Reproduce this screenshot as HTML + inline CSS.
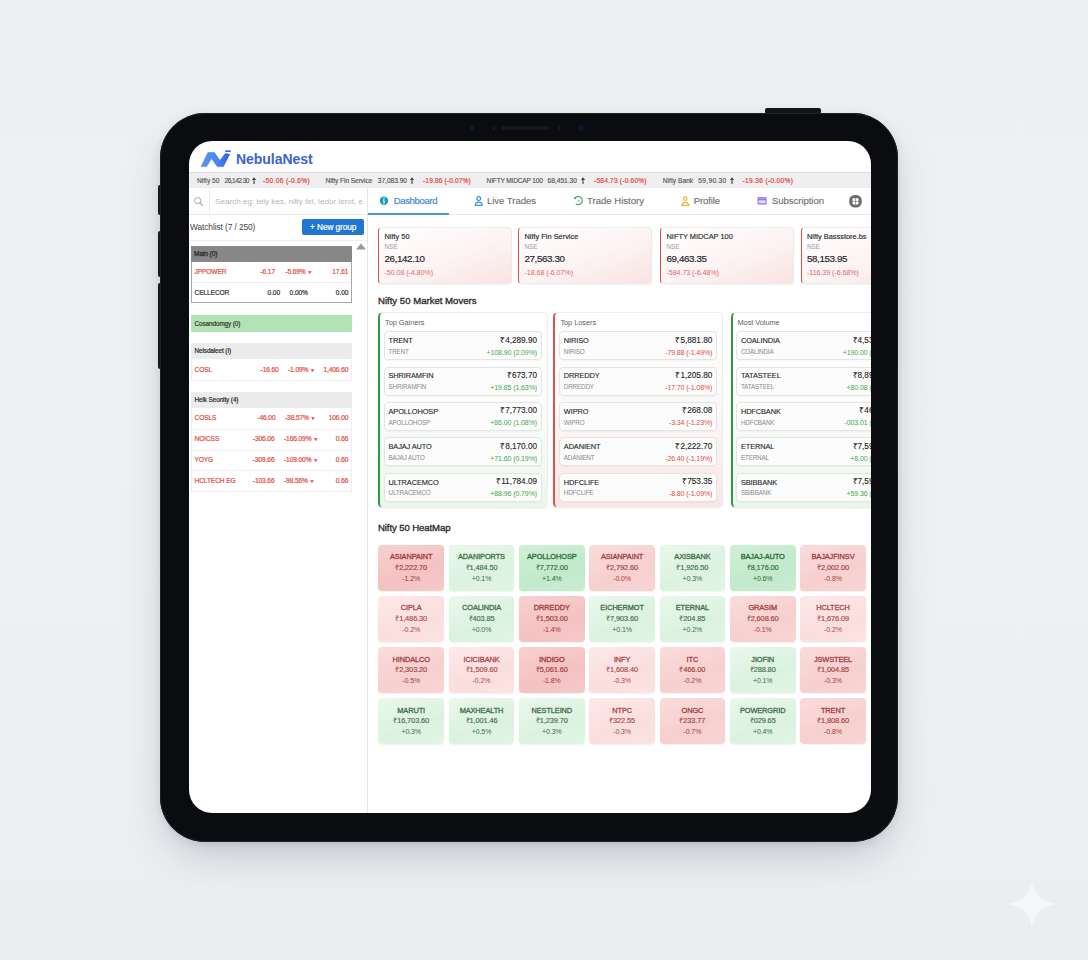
<!DOCTYPE html>
<html><head><meta charset="utf-8">
<style>
*{margin:0;padding:0;box-sizing:border-box}
html,body{width:1088px;height:960px;overflow:hidden}
body{font-family:"Liberation Sans",sans-serif;background:linear-gradient(180deg,#eeeff0 0%,#eff0f2 45%,#eeeff2 75%,#ebedf0 100%);position:relative;color:#333}
.abs{position:absolute}
#frame{left:160px;top:112.5px;width:738px;height:729.5px;border-radius:45px;background:#0b0c0f;box-shadow:inset 0 0 0 1px #202125,0 18px 44px -10px rgba(50,60,90,.28),0 2px 8px rgba(40,45,60,.10)}
.btn{background:#141518;border-radius:2px}
#screen{left:189px;top:141px;width:681.5px;height:672px;border-radius:23px;background:#fff;overflow:hidden}
#inner{position:absolute;left:-189px;top:-141px;width:1088px;height:960px}
.t{position:absolute;white-space:nowrap}
.r{position:absolute}
</style></head><body>
<div class="abs btn" style="left:765px;top:108px;width:56px;height:6px"></div>
<div class="abs btn" style="left:157.5px;top:185px;width:4px;height:30px"></div>
<div class="abs btn" style="left:157.5px;top:231px;width:4px;height:46px"></div>
<div class="abs btn" style="left:157.5px;top:283px;width:4px;height:86px"></div>
<div id="frame" class="abs"></div>
<div class="abs" style="left:469.5px;top:125.5px;width:4px;height:4px;border-radius:50%;background:#0e1a38"></div>
<div class="abs" style="left:491.5px;top:126px;width:3.5px;height:3.5px;border-radius:50%;background:#17181b"></div>
<div class="abs" style="left:501px;top:126px;width:48px;height:3.5px;border-radius:2px;background:#17181b"></div>
<div class="abs" style="left:557.5px;top:126px;width:3.5px;height:3.5px;border-radius:50%;background:#17181b"></div>
<div class="abs" style="left:577.5px;top:124.5px;width:6px;height:6px;border-radius:50%;background:#0b1630"></div>
<div id="screen" class="abs"><div id="inner">
<svg class="r" style="left:196px;top:146px" width="40" height="26" viewBox="196 146 40 26">
<defs><linearGradient id="lg" x1="0" y1="0" x2="1" y2="0"><stop offset="0" stop-color="#5b95ee"/><stop offset="0.55" stop-color="#4a88f0"/><stop offset="1" stop-color="#2d5fd6"/></linearGradient></defs>
<path d="M201.1 166.6 L207.9 152.5 L214.4 152.5 L219.9 160.4 L225.2 153.5 L229.7 154.3 L223.4 166.6 L217.2 166.6 L211.6 158.5 L206.6 166.6 Z" fill="url(#lg)" stroke="url(#lg)" stroke-width="0.6" stroke-linejoin="round"/>
<rect x="225" y="150.2" width="5.9" height="1.9" rx="0.95" fill="#3f6fe0"/>
</svg>
<div class="t" style="top:152.36px;font-size:14px;line-height:14px;color:#3b63d4;font-weight:bold;letter-spacing:-0.05px;left:236.00px;">NebulaNest</div>
<div class="r" style="left:189.00px;top:172.00px;width:682.00px;height:16.00px;background:#efefef;border-top:1px solid #dedede;"></div>
<div class="t" style="top:177.88px;font-size:6.6px;line-height:6.6px;color:#555;letter-spacing:0.003px;left:197.00px;-webkit-text-stroke:0.15px #555;">Nifty 50</div>
<div class="t" style="top:177.88px;font-size:6.6px;line-height:6.6px;color:#555;letter-spacing:-0.54px;left:224.50px;-webkit-text-stroke:0.15px #555;">26,142.30</div>
<svg class="r" style="left:251.00px;top:176px" width="6" height="9" viewBox="0 0 6 9"><path d="M3 1.2 L5.2 3.9 L3.55 3.9 L3.55 8 L2.45 8 L2.45 3.9 L0.8 3.9 Z" fill="#444"/></svg>
<div class="t" style="top:177.88px;font-size:6.6px;line-height:6.6px;color:#e24c3e;letter-spacing:0.344px;left:263.00px;-webkit-text-stroke:0.2px #e24c3e;">-50.06 (-0.6%)</div>
<div class="t" style="top:177.88px;font-size:6.6px;line-height:6.6px;color:#555;letter-spacing:-0.073px;left:325.50px;-webkit-text-stroke:0.15px #555;">Nifty Fin Service</div>
<div class="t" style="top:177.88px;font-size:6.6px;line-height:6.6px;color:#555;letter-spacing:-0.018px;left:377.80px;-webkit-text-stroke:0.15px #555;">37,083.90</div>
<svg class="r" style="left:409.20px;top:176px" width="6" height="9" viewBox="0 0 6 9"><path d="M3 1.2 L5.2 3.9 L3.55 3.9 L3.55 8 L2.45 8 L2.45 3.9 L0.8 3.9 Z" fill="#444"/></svg>
<div class="t" style="top:177.88px;font-size:6.6px;line-height:6.6px;color:#e24c3e;letter-spacing:0.143px;left:423.00px;-webkit-text-stroke:0.2px #e24c3e;">-19.86 (-0.07%)</div>
<div class="t" style="top:177.88px;font-size:6.6px;line-height:6.6px;color:#555;letter-spacing:-0.186px;left:486.60px;-webkit-text-stroke:0.15px #555;">NIFTY MIDCAP 100</div>
<div class="t" style="top:177.88px;font-size:6.6px;line-height:6.6px;color:#555;letter-spacing:0.004px;left:547.60px;-webkit-text-stroke:0.15px #555;">68,451.30</div>
<svg class="r" style="left:580.00px;top:176px" width="6" height="9" viewBox="0 0 6 9"><path d="M3 1.2 L5.2 3.9 L3.55 3.9 L3.55 8 L2.45 8 L2.45 3.9 L0.8 3.9 Z" fill="#444"/></svg>
<div class="t" style="top:177.88px;font-size:6.6px;line-height:6.6px;color:#e24c3e;letter-spacing:0.205px;left:594.00px;-webkit-text-stroke:0.2px #e24c3e;">-584.73 (-0.60%)</div>
<div class="t" style="top:177.88px;font-size:6.6px;line-height:6.6px;color:#555;letter-spacing:0.032px;left:662.80px;-webkit-text-stroke:0.15px #555;">Nifty Bank</div>
<div class="t" style="top:177.88px;font-size:6.6px;line-height:6.6px;color:#555;letter-spacing:0.314px;left:698.30px;-webkit-text-stroke:0.15px #555;">59,90.30</div>
<svg class="r" style="left:728.70px;top:176px" width="6" height="9" viewBox="0 0 6 9"><path d="M3 1.2 L5.2 3.9 L3.55 3.9 L3.55 8 L2.45 8 L2.45 3.9 L0.8 3.9 Z" fill="#444"/></svg>
<div class="t" style="top:177.88px;font-size:6.6px;line-height:6.6px;color:#e24c3e;letter-spacing:0.323px;left:742.60px;-webkit-text-stroke:0.2px #e24c3e;">-19.36 (-0.00%)</div>
<div class="r" style="left:367.00px;top:188.00px;width:1.00px;height:625.00px;background:#e6e6e6;"></div>
<div class="r" style="left:189.00px;top:214.00px;width:178.00px;height:1.00px;background:#e9e9e9;"></div>
<div class="r" style="left:209.00px;top:188.00px;width:1.00px;height:26.00px;background:#ececec;"></div>
<svg class="r" style="left:192px;top:195px" width="14" height="14" viewBox="192 195 14 14">
<circle cx="197.7" cy="200.6" r="3.1" fill="none" stroke="#a9a9a9" stroke-width="1"/>
<line x1="199.9" y1="202.9" x2="202.4" y2="205.5" stroke="#a9a9a9" stroke-width="1.1" stroke-linecap="round"/></svg>
<div class="t" style="top:197.74px;font-size:8.1px;line-height:8.1px;color:#b5b5b5;left:215.10px;">Search eg: tely kes, nlity fel, ledor lerot, e</div>
<div class="t" style="top:222.90px;font-size:8.4px;line-height:8.4px;color:#444;letter-spacing:-0.1px;left:190.00px;">Watchlist (7 / 250)</div>
<div class="r" style="left:302.40px;top:219.00px;width:61.60px;height:16.00px;background:#1f77d0;border-radius:2px;"></div>
<div class="t" style="top:222.95px;font-size:8.3px;line-height:8.3px;color:#fff;letter-spacing:-0.1px;left:183.20px;width:300px;text-align:center;-webkit-text-stroke:0.2px #fff;">+ New group</div>
<div class="r" style="left:189.00px;top:240.00px;width:178.00px;height:1.00px;background:#eeeeee;"></div>
<svg class="r" style="left:355px;top:243px" width="12" height="8" viewBox="0 0 12 8"><path d="M6 0.5 L11 6.5 L1 6.5 Z" fill="#9a9a9a"/></svg>
<div class="r" style="left:191.40px;top:246.10px;width:160.30px;height:57.30px;border:1px solid #a8a8a8;background:#fff;"></div>
<div class="r" style="left:191.40px;top:246.10px;width:160.30px;height:16.00px;background:#878787;"></div>
<div class="t" style="top:251.08px;font-size:6.6px;line-height:6.6px;color:#2a2a2a;letter-spacing:-0.1px;left:194.00px;-webkit-text-stroke:0.25px #2a2a2a;">Main (0)</div>
<div class="r" style="left:192.40px;top:282.40px;width:158.30px;height:1.00px;background:#eeeeee;"></div>
<div class="t" style="top:269.08px;font-size:6.6px;line-height:6.6px;color:#e24c3e;letter-spacing:-0.1px;left:194.50px;-webkit-text-stroke:0.2px #e24c3e;">JPPOWER</div>
<div class="t" style="top:269.08px;font-size:6.6px;line-height:6.6px;color:#e24c3e;letter-spacing:-0.1px;left:-25.00px;width:300px;text-align:right;margin-right:-0.1px;-webkit-text-stroke:0.2px #e24c3e;">-6.17</div>
<div class="t" style="top:269.08px;font-size:6.6px;line-height:6.6px;color:#e24c3e;letter-spacing:-0.1px;left:285.30px;-webkit-text-stroke:0.2px #e24c3e;">-5.69% <span style="font-size:5px">&#9660;</span></div>
<div class="t" style="top:269.08px;font-size:6.6px;line-height:6.6px;color:#e24c3e;letter-spacing:-0.1px;left:48.30px;width:300px;text-align:right;margin-right:-0.1px;-webkit-text-stroke:0.2px #e24c3e;">17.61</div>
<div class="t" style="top:289.78px;font-size:6.6px;line-height:6.6px;color:#333;letter-spacing:-0.1px;left:194.50px;-webkit-text-stroke:0.2px #333;">CELLECOR</div>
<div class="t" style="top:289.78px;font-size:6.6px;line-height:6.6px;color:#333;letter-spacing:-0.1px;left:-20.00px;width:300px;text-align:right;margin-right:-0.1px;-webkit-text-stroke:0.2px #333;">0.00</div>
<div class="t" style="top:289.78px;font-size:6.6px;line-height:6.6px;color:#333;letter-spacing:-0.1px;left:289.60px;-webkit-text-stroke:0.2px #333;">0.00%</div>
<div class="t" style="top:289.78px;font-size:6.6px;line-height:6.6px;color:#333;letter-spacing:-0.1px;left:48.30px;width:300px;text-align:right;margin-right:-0.1px;-webkit-text-stroke:0.2px #333;">0.00</div>
<div class="r" style="left:191.40px;top:315.30px;width:160.30px;height:16.70px;background:#b3e2b4;border-radius:1px;"></div>
<div class="t" style="top:320.57px;font-size:6.4px;line-height:6.4px;color:#2f3a2f;letter-spacing:-0.1px;left:194.50px;-webkit-text-stroke:0.2px #2f3a2f;">Cosandomgy (0)</div>
<div class="r" style="left:191.40px;top:343.30px;width:160.30px;height:37.50px;background:#fff;border:1px solid #eeeeee;"></div>
<div class="r" style="left:191.40px;top:343.30px;width:160.30px;height:15.70px;background:#ececec;"></div>
<div class="t" style="top:348.07px;font-size:6.4px;line-height:6.4px;color:#2a2a2a;letter-spacing:-0.1px;left:194.50px;-webkit-text-stroke:0.2px #2a2a2a;">Nelsdaleet (I)</div>
<div class="t" style="top:366.58px;font-size:6.6px;line-height:6.6px;color:#e24c3e;letter-spacing:-0.1px;left:194.50px;-webkit-text-stroke:0.2px #e24c3e;">COSL</div>
<div class="t" style="top:366.58px;font-size:6.6px;line-height:6.6px;color:#e24c3e;letter-spacing:-0.1px;left:-21.30px;width:300px;text-align:right;margin-right:-0.1px;-webkit-text-stroke:0.2px #e24c3e;">-16.60</div>
<div class="t" style="top:366.58px;font-size:6.6px;line-height:6.6px;color:#e24c3e;letter-spacing:-0.1px;left:288.00px;-webkit-text-stroke:0.2px #e24c3e;">-1.09% <span style="font-size:5px">&#9660;</span></div>
<div class="t" style="top:366.58px;font-size:6.6px;line-height:6.6px;color:#e24c3e;letter-spacing:-0.1px;left:48.30px;width:300px;text-align:right;margin-right:-0.1px;-webkit-text-stroke:0.2px #e24c3e;">1,406.60</div>
<div class="r" style="left:191.40px;top:392.30px;width:160.30px;height:100.00px;background:#fff;border:1px solid #eeeeee;"></div>
<div class="r" style="left:191.40px;top:392.30px;width:160.30px;height:15.70px;background:#ececec;"></div>
<div class="t" style="top:397.07px;font-size:6.4px;line-height:6.4px;color:#2a2a2a;letter-spacing:-0.1px;left:194.50px;-webkit-text-stroke:0.2px #2a2a2a;">Helk Seonity (4)</div>
<div class="t" style="top:415.18px;font-size:6.6px;line-height:6.6px;color:#e24c3e;letter-spacing:-0.1px;left:194.50px;-webkit-text-stroke:0.2px #e24c3e;">COSLS</div>
<div class="t" style="top:415.18px;font-size:6.6px;line-height:6.6px;color:#e24c3e;letter-spacing:-0.1px;left:-24.50px;width:300px;text-align:right;margin-right:-0.1px;-webkit-text-stroke:0.2px #e24c3e;">-46.00</div>
<div class="t" style="top:415.18px;font-size:6.6px;line-height:6.6px;color:#e24c3e;letter-spacing:-0.1px;left:285.00px;-webkit-text-stroke:0.2px #e24c3e;">-38.57% <span style="font-size:5px">&#9660;</span></div>
<div class="t" style="top:415.18px;font-size:6.6px;line-height:6.6px;color:#e24c3e;letter-spacing:-0.1px;left:48.30px;width:300px;text-align:right;margin-right:-0.1px;-webkit-text-stroke:0.2px #e24c3e;">106.00</div>
<div class="r" style="left:192.40px;top:428.80px;width:158.30px;height:1.00px;background:#f0f0f0;"></div>
<div class="t" style="top:435.98px;font-size:6.6px;line-height:6.6px;color:#e24c3e;letter-spacing:-0.1px;left:194.50px;-webkit-text-stroke:0.2px #e24c3e;">NOICSS</div>
<div class="t" style="top:435.98px;font-size:6.6px;line-height:6.6px;color:#e24c3e;letter-spacing:-0.1px;left:-25.50px;width:300px;text-align:right;margin-right:-0.1px;-webkit-text-stroke:0.2px #e24c3e;">-306.06</div>
<div class="t" style="top:435.98px;font-size:6.6px;line-height:6.6px;color:#e24c3e;letter-spacing:-0.1px;left:284.00px;-webkit-text-stroke:0.2px #e24c3e;">-166.09% <span style="font-size:5px">&#9660;</span></div>
<div class="t" style="top:435.98px;font-size:6.6px;line-height:6.6px;color:#e24c3e;letter-spacing:-0.1px;left:48.30px;width:300px;text-align:right;margin-right:-0.1px;-webkit-text-stroke:0.2px #e24c3e;">0.66</div>
<div class="r" style="left:192.40px;top:449.60px;width:158.30px;height:1.00px;background:#f0f0f0;"></div>
<div class="t" style="top:456.78px;font-size:6.6px;line-height:6.6px;color:#e24c3e;letter-spacing:-0.1px;left:194.50px;-webkit-text-stroke:0.2px #e24c3e;">YOYG</div>
<div class="t" style="top:456.78px;font-size:6.6px;line-height:6.6px;color:#e24c3e;letter-spacing:-0.1px;left:-25.50px;width:300px;text-align:right;margin-right:-0.1px;-webkit-text-stroke:0.2px #e24c3e;">-309.66</div>
<div class="t" style="top:456.78px;font-size:6.6px;line-height:6.6px;color:#e24c3e;letter-spacing:-0.1px;left:284.00px;-webkit-text-stroke:0.2px #e24c3e;">-109.00% <span style="font-size:5px">&#9660;</span></div>
<div class="t" style="top:456.78px;font-size:6.6px;line-height:6.6px;color:#e24c3e;letter-spacing:-0.1px;left:48.30px;width:300px;text-align:right;margin-right:-0.1px;-webkit-text-stroke:0.2px #e24c3e;">0.60</div>
<div class="r" style="left:192.40px;top:470.40px;width:158.30px;height:1.00px;background:#f0f0f0;"></div>
<div class="t" style="top:477.58px;font-size:6.6px;line-height:6.6px;color:#e24c3e;letter-spacing:-0.1px;left:194.50px;-webkit-text-stroke:0.2px #e24c3e;">HCLTECH EG</div>
<div class="t" style="top:477.58px;font-size:6.6px;line-height:6.6px;color:#e24c3e;letter-spacing:-0.1px;left:-25.50px;width:300px;text-align:right;margin-right:-0.1px;-webkit-text-stroke:0.2px #e24c3e;">-103.66</div>
<div class="t" style="top:477.58px;font-size:6.6px;line-height:6.6px;color:#e24c3e;letter-spacing:-0.1px;left:284.00px;-webkit-text-stroke:0.2px #e24c3e;">-98.56% <span style="font-size:5px">&#9660;</span></div>
<div class="t" style="top:477.58px;font-size:6.6px;line-height:6.6px;color:#e24c3e;letter-spacing:-0.1px;left:48.30px;width:300px;text-align:right;margin-right:-0.1px;-webkit-text-stroke:0.2px #e24c3e;">0.66</div>
<div class="r" style="left:368.00px;top:214.00px;width:503.00px;height:1.00px;background:#e8e8e8;"></div>
<div class="r" style="left:368.00px;top:213.00px;width:81.00px;height:1.60px;background:#4d96e8;"></div>
<div class="t" style="top:195.91px;font-size:9.6px;line-height:9.6px;color:#3b84d9;letter-spacing:-0.385px;left:393.70px;-webkit-text-stroke:0.15px #3b84d9;">Dashboard</div>
<div class="t" style="top:195.91px;font-size:9.6px;line-height:9.6px;color:#727272;letter-spacing:-0.057px;left:487.00px;-webkit-text-stroke:0.15px #727272;">Live Trades</div>
<div class="t" style="top:195.91px;font-size:9.6px;line-height:9.6px;color:#727272;letter-spacing:-0.02px;left:587.00px;-webkit-text-stroke:0.15px #727272;">Trade History</div>
<div class="t" style="top:195.91px;font-size:9.6px;line-height:9.6px;color:#727272;letter-spacing:-0.145px;left:693.80px;-webkit-text-stroke:0.15px #727272;">Profile</div>
<div class="t" style="top:195.91px;font-size:9.6px;line-height:9.6px;color:#727272;letter-spacing:-0.069px;left:772.00px;-webkit-text-stroke:0.15px #727272;">Subscription</div>
<svg class="r" style="left:368px;top:190px" width="503" height="24" viewBox="368 190 503 24">
<circle cx="384" cy="200.8" r="4.2" fill="#1e98bd"/>
<path d="M384.2 197.6 L383.4 201.5 L384.6 201.5 L383.8 204" stroke="#a6e4ea" stroke-width="1.3" fill="none" stroke-linecap="round"/>
<circle cx="478.7" cy="198.6" r="1.9" fill="none" stroke="#3d8fe8" stroke-width="1.2"/>
<path d="M475.3 205.4 Q475.3 202.2 478.7 202.2 Q482.2 202.2 482.2 205.4 Z" fill="none" stroke="#3d8fe8" stroke-width="1.2" stroke-linejoin="round"/>
<path d="M575 198.2 A4 4 0 1 1 576.2 204" fill="none" stroke="#48a85a" stroke-width="1.3" stroke-linecap="round"/>
<circle cx="574.8" cy="198.2" r="1" fill="#48a85a"/>
<circle cx="578.6" cy="200.6" r="0.9" fill="#6bbf77"/>
<circle cx="685.2" cy="198.6" r="1.8" fill="none" stroke="#f3b23a" stroke-width="1.2"/>
<path d="M681.6 205.4 Q682.6 202.3 685.2 202.3 Q688 202.3 689 205.4 Z" fill="none" stroke="#f3b23a" stroke-width="1.2" stroke-linejoin="round"/>
<rect x="757.6" y="197" width="9" height="7.6" rx="1" fill="#8c6fe0"/>
<rect x="758.4" y="197.6" width="7.4" height="1.5" fill="#b3a4f2"/>
<rect x="758.6" y="200.3" width="7" height="3" fill="#e4dcfa"/>
<rect x="849.2" y="195" width="12.6" height="12.6" rx="5.5" fill="#6e6e6e"/>
<rect x="852.5" y="198.2" width="6" height="6.2" rx="0.8" fill="#fff"/>
<line x1="855.5" y1="197.6" x2="855.5" y2="204.6" stroke="#6e6e6e" stroke-width="0.6"/>
<line x1="852" y1="201.3" x2="859" y2="201.3" stroke="#6e6e6e" stroke-width="0.6"/>
</svg>
<div class="r" style="left:378.00px;top:226.60px;width:134.00px;height:57.00px;border:1px solid #ebebeb;border-left:1.8px solid #e04e4e;border-radius:4px;background:linear-gradient(160deg,#ffffff 0%,#fdf3f3 55%,#f9e3e3 100%);box-shadow:0 1px 2px rgba(0,0,0,.05);"></div>
<div class="t" style="top:232.89px;font-size:7.4px;line-height:7.4px;color:#303030;left:384.50px;-webkit-text-stroke:0.18px #303030;">Nifty 50</div>
<div class="t" style="top:244.42px;font-size:6.3px;line-height:6.3px;color:#9a9a9a;left:384.50px;">NSE</div>
<div class="t" style="top:253.81px;font-size:9.8px;line-height:9.8px;color:#2a2a2a;letter-spacing:-0.4px;left:384.50px;-webkit-text-stroke:0.2px #2a2a2a;">26,142.10</div>
<div class="t" style="top:268.88px;font-size:7.2px;line-height:7.2px;color:#e5675f;letter-spacing:-0.1px;left:384.50px;">-50.08 (-4.80%)</div>
<div class="r" style="left:518.00px;top:226.60px;width:134.00px;height:57.00px;border:1px solid #ebebeb;border-left:1.8px solid #e04e4e;border-radius:4px;background:linear-gradient(160deg,#ffffff 0%,#fdf3f3 55%,#f9e3e3 100%);box-shadow:0 1px 2px rgba(0,0,0,.05);"></div>
<div class="t" style="top:232.89px;font-size:7.4px;line-height:7.4px;color:#303030;left:524.50px;-webkit-text-stroke:0.18px #303030;">Nifty Fin Service</div>
<div class="t" style="top:244.42px;font-size:6.3px;line-height:6.3px;color:#9a9a9a;left:524.50px;">NSE</div>
<div class="t" style="top:253.81px;font-size:9.8px;line-height:9.8px;color:#2a2a2a;letter-spacing:-0.4px;left:524.50px;-webkit-text-stroke:0.2px #2a2a2a;">27,563.30</div>
<div class="t" style="top:268.88px;font-size:7.2px;line-height:7.2px;color:#e5675f;letter-spacing:-0.1px;left:524.50px;">-18.68 (-6.07%)</div>
<div class="r" style="left:660.00px;top:226.60px;width:134.00px;height:57.00px;border:1px solid #ebebeb;border-left:1.8px solid #e04e4e;border-radius:4px;background:linear-gradient(160deg,#ffffff 0%,#fdf3f3 55%,#f9e3e3 100%);box-shadow:0 1px 2px rgba(0,0,0,.05);"></div>
<div class="t" style="top:232.89px;font-size:7.4px;line-height:7.4px;color:#303030;left:666.50px;-webkit-text-stroke:0.18px #303030;">NIFTY MIDCAP 100</div>
<div class="t" style="top:244.42px;font-size:6.3px;line-height:6.3px;color:#9a9a9a;left:666.50px;">NSE</div>
<div class="t" style="top:253.81px;font-size:9.8px;line-height:9.8px;color:#2a2a2a;letter-spacing:-0.4px;left:666.50px;-webkit-text-stroke:0.2px #2a2a2a;">69,463.35</div>
<div class="t" style="top:268.88px;font-size:7.2px;line-height:7.2px;color:#e5675f;letter-spacing:-0.1px;left:666.50px;">-584.73 (-6.48%)</div>
<div class="r" style="left:800.50px;top:226.60px;width:134.00px;height:57.00px;border:1px solid #ebebeb;border-left:1.8px solid #e04e4e;border-radius:4px;background:linear-gradient(160deg,#ffffff 0%,#fdf3f3 55%,#f9e3e3 100%);box-shadow:0 1px 2px rgba(0,0,0,.05);"></div>
<div class="t" style="top:232.89px;font-size:7.4px;line-height:7.4px;color:#303030;left:807.00px;-webkit-text-stroke:0.18px #303030;">Nifty Bassstore.bs</div>
<div class="t" style="top:244.42px;font-size:6.3px;line-height:6.3px;color:#9a9a9a;left:807.00px;">NSE</div>
<div class="t" style="top:253.81px;font-size:9.8px;line-height:9.8px;color:#2a2a2a;letter-spacing:-0.4px;left:807.00px;-webkit-text-stroke:0.2px #2a2a2a;">58,153.95</div>
<div class="t" style="top:268.88px;font-size:7.2px;line-height:7.2px;color:#e5675f;letter-spacing:-0.1px;left:807.00px;">-116.39 (-6.68%)</div>
<div class="t" style="top:295.61px;font-size:9.6px;line-height:9.6px;color:#2e2e2e;letter-spacing:-0.004px;left:378.00px;-webkit-text-stroke:0.35px #2e2e2e;">Nifty 50 Market Movers</div>
<div class="r" style="left:378.10px;top:312.30px;width:169.50px;height:195.30px;border:1px solid #ececec;border-left:2px solid #2d9b45;border-radius:5px;background:linear-gradient(180deg,#ffffff 0%,#fbfdfb 50%,#eaf6ec 100%);box-shadow:0 1px 2px rgba(0,0,0,.04);"></div>
<div class="t" style="top:318.59px;font-size:7.4px;line-height:7.4px;color:#5e5e5e;letter-spacing:-0.05px;left:385.10px;">Top Gainers</div>
<div class="r" style="left:383.90px;top:331.20px;width:158.00px;height:29.00px;border:1px solid #e3e5e3;border-radius:4px;background:rgba(252,252,252,0.92);box-shadow:0 1px 1px rgba(0,0,0,.03);"></div>
<div class="t" style="top:336.99px;font-size:7.4px;line-height:7.4px;color:#262626;letter-spacing:-0.1px;left:388.50px;-webkit-text-stroke:0.12px #262626;">TRENT</div>
<div class="t" style="top:348.72px;font-size:6.3px;line-height:6.3px;color:#8a8a8a;letter-spacing:-0.15px;left:388.50px;">TRENT</div>
<div class="t" style="top:336.59px;font-size:8.2px;line-height:8.2px;color:#262626;left:237.00px;width:300px;text-align:right;-webkit-text-stroke:0.12px #262626;">&#8377;4,289.90</div>
<div class="t" style="top:348.58px;font-size:7px;line-height:7px;color:#43a84d;letter-spacing:-0.1px;left:237.00px;width:300px;text-align:right;margin-right:-0.1px;">+108.90 (2.09%)</div>
<div class="r" style="left:383.90px;top:366.60px;width:158.00px;height:29.00px;border:1px solid #e3e5e3;border-radius:4px;background:rgba(252,252,252,0.92);box-shadow:0 1px 1px rgba(0,0,0,.03);"></div>
<div class="t" style="top:372.39px;font-size:7.4px;line-height:7.4px;color:#262626;letter-spacing:-0.1px;left:388.50px;-webkit-text-stroke:0.12px #262626;">SHRIRAMFIN</div>
<div class="t" style="top:384.12px;font-size:6.3px;line-height:6.3px;color:#8a8a8a;letter-spacing:-0.15px;left:388.50px;">SHRIRAMFIN</div>
<div class="t" style="top:371.99px;font-size:8.2px;line-height:8.2px;color:#262626;left:237.00px;width:300px;text-align:right;-webkit-text-stroke:0.12px #262626;">&#8377;673.70</div>
<div class="t" style="top:383.98px;font-size:7px;line-height:7px;color:#43a84d;letter-spacing:-0.1px;left:237.00px;width:300px;text-align:right;margin-right:-0.1px;">+19.85 (1.63%)</div>
<div class="r" style="left:383.90px;top:402.00px;width:158.00px;height:29.00px;border:1px solid #e3e5e3;border-radius:4px;background:rgba(252,252,252,0.92);box-shadow:0 1px 1px rgba(0,0,0,.03);"></div>
<div class="t" style="top:407.79px;font-size:7.4px;line-height:7.4px;color:#262626;letter-spacing:-0.1px;left:388.50px;-webkit-text-stroke:0.12px #262626;">APOLLOHOSP</div>
<div class="t" style="top:419.52px;font-size:6.3px;line-height:6.3px;color:#8a8a8a;letter-spacing:-0.15px;left:388.50px;">APOLLOHOSP</div>
<div class="t" style="top:407.39px;font-size:8.2px;line-height:8.2px;color:#262626;left:237.00px;width:300px;text-align:right;-webkit-text-stroke:0.12px #262626;">&#8377;7,773.00</div>
<div class="t" style="top:419.38px;font-size:7px;line-height:7px;color:#43a84d;letter-spacing:-0.1px;left:237.00px;width:300px;text-align:right;margin-right:-0.1px;">+86.00 (1.08%)</div>
<div class="r" style="left:383.90px;top:437.40px;width:158.00px;height:29.00px;border:1px solid #e3e5e3;border-radius:4px;background:rgba(252,252,252,0.92);box-shadow:0 1px 1px rgba(0,0,0,.03);"></div>
<div class="t" style="top:443.19px;font-size:7.4px;line-height:7.4px;color:#262626;letter-spacing:-0.1px;left:388.50px;-webkit-text-stroke:0.12px #262626;">BAJAJ AUTO</div>
<div class="t" style="top:454.92px;font-size:6.3px;line-height:6.3px;color:#8a8a8a;letter-spacing:-0.15px;left:388.50px;">BAJAJ AUTO</div>
<div class="t" style="top:442.79px;font-size:8.2px;line-height:8.2px;color:#262626;left:237.00px;width:300px;text-align:right;-webkit-text-stroke:0.12px #262626;">&#8377;8,170.00</div>
<div class="t" style="top:454.78px;font-size:7px;line-height:7px;color:#43a84d;letter-spacing:-0.1px;left:237.00px;width:300px;text-align:right;margin-right:-0.1px;">+71.60 (0.19%)</div>
<div class="r" style="left:383.90px;top:472.80px;width:158.00px;height:29.00px;border:1px solid #e3e5e3;border-radius:4px;background:rgba(252,252,252,0.92);box-shadow:0 1px 1px rgba(0,0,0,.03);"></div>
<div class="t" style="top:478.59px;font-size:7.4px;line-height:7.4px;color:#262626;letter-spacing:-0.1px;left:388.50px;-webkit-text-stroke:0.12px #262626;">ULTRACEMCO</div>
<div class="t" style="top:490.32px;font-size:6.3px;line-height:6.3px;color:#8a8a8a;letter-spacing:-0.15px;left:388.50px;">ULTRACEMCO</div>
<div class="t" style="top:478.19px;font-size:8.2px;line-height:8.2px;color:#262626;left:237.00px;width:300px;text-align:right;-webkit-text-stroke:0.12px #262626;">&#8377;11,784.09</div>
<div class="t" style="top:490.18px;font-size:7px;line-height:7px;color:#43a84d;letter-spacing:-0.1px;left:237.00px;width:300px;text-align:right;margin-right:-0.1px;">+88.96 (0.79%)</div>
<div class="r" style="left:553.40px;top:312.30px;width:169.50px;height:195.30px;border:1px solid #ececec;border-left:2px solid #d9534f;border-radius:5px;background:linear-gradient(180deg,#ffffff 0%,#fdf7f7 50%,#f9e6e6 100%);box-shadow:0 1px 2px rgba(0,0,0,.04);"></div>
<div class="t" style="top:318.59px;font-size:7.4px;line-height:7.4px;color:#5e5e5e;letter-spacing:-0.05px;left:560.40px;">Top Losers</div>
<div class="r" style="left:559.20px;top:331.20px;width:158.00px;height:29.00px;border:1px solid #e3e5e3;border-radius:4px;background:rgba(252,252,252,0.92);box-shadow:0 1px 1px rgba(0,0,0,.03);"></div>
<div class="t" style="top:336.99px;font-size:7.4px;line-height:7.4px;color:#262626;letter-spacing:-0.1px;left:563.80px;-webkit-text-stroke:0.12px #262626;">NIRISO</div>
<div class="t" style="top:348.72px;font-size:6.3px;line-height:6.3px;color:#8a8a8a;letter-spacing:-0.15px;left:563.80px;">NIRISO</div>
<div class="t" style="top:336.59px;font-size:8.2px;line-height:8.2px;color:#262626;left:412.30px;width:300px;text-align:right;-webkit-text-stroke:0.12px #262626;">&#8377;5,881.80</div>
<div class="t" style="top:348.58px;font-size:7px;line-height:7px;color:#e24c3e;letter-spacing:-0.1px;left:412.30px;width:300px;text-align:right;margin-right:-0.1px;">-79.88 (-1.49%)</div>
<div class="r" style="left:559.20px;top:366.60px;width:158.00px;height:29.00px;border:1px solid #e3e5e3;border-radius:4px;background:rgba(252,252,252,0.92);box-shadow:0 1px 1px rgba(0,0,0,.03);"></div>
<div class="t" style="top:372.39px;font-size:7.4px;line-height:7.4px;color:#262626;letter-spacing:-0.1px;left:563.80px;-webkit-text-stroke:0.12px #262626;">DRREDDY</div>
<div class="t" style="top:384.12px;font-size:6.3px;line-height:6.3px;color:#8a8a8a;letter-spacing:-0.15px;left:563.80px;">DRREDDY</div>
<div class="t" style="top:371.99px;font-size:8.2px;line-height:8.2px;color:#262626;left:412.30px;width:300px;text-align:right;-webkit-text-stroke:0.12px #262626;">&#8377;1,205.80</div>
<div class="t" style="top:383.98px;font-size:7px;line-height:7px;color:#e24c3e;letter-spacing:-0.1px;left:412.30px;width:300px;text-align:right;margin-right:-0.1px;">-17.70 (-1.08%)</div>
<div class="r" style="left:559.20px;top:402.00px;width:158.00px;height:29.00px;border:1px solid #e3e5e3;border-radius:4px;background:rgba(252,252,252,0.92);box-shadow:0 1px 1px rgba(0,0,0,.03);"></div>
<div class="t" style="top:407.79px;font-size:7.4px;line-height:7.4px;color:#262626;letter-spacing:-0.1px;left:563.80px;-webkit-text-stroke:0.12px #262626;">WIPRO</div>
<div class="t" style="top:419.52px;font-size:6.3px;line-height:6.3px;color:#8a8a8a;letter-spacing:-0.15px;left:563.80px;">WIPRO</div>
<div class="t" style="top:407.39px;font-size:8.2px;line-height:8.2px;color:#262626;left:412.30px;width:300px;text-align:right;-webkit-text-stroke:0.12px #262626;">&#8377;268.08</div>
<div class="t" style="top:419.38px;font-size:7px;line-height:7px;color:#e24c3e;letter-spacing:-0.1px;left:412.30px;width:300px;text-align:right;margin-right:-0.1px;">-3.34 (-1.23%)</div>
<div class="r" style="left:559.20px;top:437.40px;width:158.00px;height:29.00px;border:1px solid #e3e5e3;border-radius:4px;background:rgba(252,252,252,0.92);box-shadow:0 1px 1px rgba(0,0,0,.03);"></div>
<div class="t" style="top:443.19px;font-size:7.4px;line-height:7.4px;color:#262626;letter-spacing:-0.1px;left:563.80px;-webkit-text-stroke:0.12px #262626;">ADANIENT</div>
<div class="t" style="top:454.92px;font-size:6.3px;line-height:6.3px;color:#8a8a8a;letter-spacing:-0.15px;left:563.80px;">ADANIENT</div>
<div class="t" style="top:442.79px;font-size:8.2px;line-height:8.2px;color:#262626;left:412.30px;width:300px;text-align:right;-webkit-text-stroke:0.12px #262626;">&#8377;2,222.70</div>
<div class="t" style="top:454.78px;font-size:7px;line-height:7px;color:#e24c3e;letter-spacing:-0.1px;left:412.30px;width:300px;text-align:right;margin-right:-0.1px;">-26.40 (-1.19%)</div>
<div class="r" style="left:559.20px;top:472.80px;width:158.00px;height:29.00px;border:1px solid #e3e5e3;border-radius:4px;background:rgba(252,252,252,0.92);box-shadow:0 1px 1px rgba(0,0,0,.03);"></div>
<div class="t" style="top:478.59px;font-size:7.4px;line-height:7.4px;color:#262626;letter-spacing:-0.1px;left:563.80px;-webkit-text-stroke:0.12px #262626;">HDFCLIFE</div>
<div class="t" style="top:490.32px;font-size:6.3px;line-height:6.3px;color:#8a8a8a;letter-spacing:-0.15px;left:563.80px;">HDFCLIFE</div>
<div class="t" style="top:478.19px;font-size:8.2px;line-height:8.2px;color:#262626;left:412.30px;width:300px;text-align:right;-webkit-text-stroke:0.12px #262626;">&#8377;753.35</div>
<div class="t" style="top:490.18px;font-size:7px;line-height:7px;color:#e24c3e;letter-spacing:-0.1px;left:412.30px;width:300px;text-align:right;margin-right:-0.1px;">-8.80 (-1.09%)</div>
<div class="r" style="left:730.50px;top:312.30px;width:169.50px;height:195.30px;border:1px solid #ececec;border-left:2px solid #2d9b45;border-radius:5px;background:linear-gradient(180deg,#ffffff 0%,#fbfdfb 50%,#eaf6ec 100%);box-shadow:0 1px 2px rgba(0,0,0,.04);"></div>
<div class="t" style="top:318.59px;font-size:7.4px;line-height:7.4px;color:#5e5e5e;letter-spacing:-0.05px;left:737.50px;">Most Volume</div>
<div class="r" style="left:736.30px;top:331.20px;width:158.00px;height:29.00px;border:1px solid #e3e5e3;border-radius:4px;background:rgba(252,252,252,0.92);box-shadow:0 1px 1px rgba(0,0,0,.03);"></div>
<div class="t" style="top:336.99px;font-size:7.4px;line-height:7.4px;color:#262626;letter-spacing:-0.1px;left:740.90px;-webkit-text-stroke:0.12px #262626;">COALINDIA</div>
<div class="t" style="top:348.72px;font-size:6.3px;line-height:6.3px;color:#8a8a8a;letter-spacing:-0.15px;left:740.90px;">COALINDIA</div>
<div class="t" style="top:336.59px;font-size:8.2px;line-height:8.2px;color:#262626;left:589.40px;width:300px;text-align:right;-webkit-text-stroke:0.12px #262626;">&#8377;4,530.00</div>
<div class="t" style="top:348.58px;font-size:7px;line-height:7px;color:#43a84d;letter-spacing:-0.1px;left:589.40px;width:300px;text-align:right;margin-right:-0.1px;">+190.00 (1.9%)</div>
<div class="r" style="left:736.30px;top:366.60px;width:158.00px;height:29.00px;border:1px solid #e3e5e3;border-radius:4px;background:rgba(252,252,252,0.92);box-shadow:0 1px 1px rgba(0,0,0,.03);"></div>
<div class="t" style="top:372.39px;font-size:7.4px;line-height:7.4px;color:#262626;letter-spacing:-0.1px;left:740.90px;-webkit-text-stroke:0.12px #262626;">TATASTEEL</div>
<div class="t" style="top:384.12px;font-size:6.3px;line-height:6.3px;color:#8a8a8a;letter-spacing:-0.15px;left:740.90px;">TATASTEEL</div>
<div class="t" style="top:371.99px;font-size:8.2px;line-height:8.2px;color:#262626;left:589.40px;width:300px;text-align:right;-webkit-text-stroke:0.12px #262626;">&#8377;8,890.00</div>
<div class="t" style="top:383.98px;font-size:7px;line-height:7px;color:#43a84d;letter-spacing:-0.1px;left:589.40px;width:300px;text-align:right;margin-right:-0.1px;">+80.08 (1.0%)</div>
<div class="r" style="left:736.30px;top:402.00px;width:158.00px;height:29.00px;border:1px solid #e3e5e3;border-radius:4px;background:rgba(252,252,252,0.92);box-shadow:0 1px 1px rgba(0,0,0,.03);"></div>
<div class="t" style="top:407.79px;font-size:7.4px;line-height:7.4px;color:#262626;letter-spacing:-0.1px;left:740.90px;-webkit-text-stroke:0.12px #262626;">HDFCBANK</div>
<div class="t" style="top:419.52px;font-size:6.3px;line-height:6.3px;color:#8a8a8a;letter-spacing:-0.15px;left:740.90px;">HDFCBANK</div>
<div class="t" style="top:407.39px;font-size:8.2px;line-height:8.2px;color:#262626;left:589.40px;width:300px;text-align:right;-webkit-text-stroke:0.12px #262626;">&#8377;468.00</div>
<div class="t" style="top:419.38px;font-size:7px;line-height:7px;color:#43a84d;letter-spacing:-0.1px;left:589.40px;width:300px;text-align:right;margin-right:-0.1px;">-003.01 (0.1%)</div>
<div class="r" style="left:736.30px;top:437.40px;width:158.00px;height:29.00px;border:1px solid #e3e5e3;border-radius:4px;background:rgba(252,252,252,0.92);box-shadow:0 1px 1px rgba(0,0,0,.03);"></div>
<div class="t" style="top:443.19px;font-size:7.4px;line-height:7.4px;color:#262626;letter-spacing:-0.1px;left:740.90px;-webkit-text-stroke:0.12px #262626;">ETERNAL</div>
<div class="t" style="top:454.92px;font-size:6.3px;line-height:6.3px;color:#8a8a8a;letter-spacing:-0.15px;left:740.90px;">ETERNAL</div>
<div class="t" style="top:442.79px;font-size:8.2px;line-height:8.2px;color:#262626;left:589.40px;width:300px;text-align:right;-webkit-text-stroke:0.12px #262626;">&#8377;7,590.00</div>
<div class="t" style="top:454.78px;font-size:7px;line-height:7px;color:#43a84d;letter-spacing:-0.1px;left:589.40px;width:300px;text-align:right;margin-right:-0.1px;">+8.00 (0.1%)</div>
<div class="r" style="left:736.30px;top:472.80px;width:158.00px;height:29.00px;border:1px solid #e3e5e3;border-radius:4px;background:rgba(252,252,252,0.92);box-shadow:0 1px 1px rgba(0,0,0,.03);"></div>
<div class="t" style="top:478.59px;font-size:7.4px;line-height:7.4px;color:#262626;letter-spacing:-0.1px;left:740.90px;-webkit-text-stroke:0.12px #262626;">SBIBBANK</div>
<div class="t" style="top:490.32px;font-size:6.3px;line-height:6.3px;color:#8a8a8a;letter-spacing:-0.15px;left:740.90px;">SBIBBANK</div>
<div class="t" style="top:478.19px;font-size:8.2px;line-height:8.2px;color:#262626;left:589.40px;width:300px;text-align:right;-webkit-text-stroke:0.12px #262626;">&#8377;7,590.00</div>
<div class="t" style="top:490.18px;font-size:7px;line-height:7px;color:#43a84d;letter-spacing:-0.1px;left:589.40px;width:300px;text-align:right;margin-right:-0.1px;">+59.36 (0.8%)</div>
<div class="t" style="top:523.41px;font-size:9.6px;line-height:9.6px;color:#2e2e2e;letter-spacing:-0.11px;left:378.00px;-webkit-text-stroke:0.35px #2e2e2e;">Nifty 50 HeatMap</div>
<div class="r" style="left:378.30px;top:544.70px;width:65.80px;height:46.30px;background:linear-gradient(160deg,#f8d0d0 0%,#f4c2c2 60%,#f6c9c9 100%);border-radius:4px;box-shadow:0 1px 2px rgba(0,0,0,.06);"></div>
<div class="t" style="top:553.39px;font-size:7.4px;line-height:7.4px;color:#9e3a3a;letter-spacing:-0.1px;left:261.20px;width:300px;text-align:center;-webkit-text-stroke:0.3px #9e3a3a;">ASIANPAINT</div>
<div class="t" style="top:563.69px;font-size:7.4px;line-height:7.4px;color:#9e3a3a;letter-spacing:-0.1px;left:261.20px;width:300px;text-align:center;-webkit-text-stroke:0.15px #9e3a3a;">&#8377;2,222.70</div>
<div class="t" style="top:574.68px;font-size:7px;line-height:7px;color:#9e3a3a;letter-spacing:-0.1px;left:261.20px;width:300px;text-align:center;">-1.2%</div>
<div class="r" style="left:448.60px;top:544.70px;width:65.80px;height:46.30px;background:linear-gradient(160deg,#e9f8ec 0%,#dcf2e0 60%,#e2f5e5 100%);border-radius:4px;box-shadow:0 1px 2px rgba(0,0,0,.06);"></div>
<div class="t" style="top:553.39px;font-size:7.4px;line-height:7.4px;color:#3d6e48;letter-spacing:-0.1px;left:331.50px;width:300px;text-align:center;-webkit-text-stroke:0.3px #3d6e48;">ADANIPORTS</div>
<div class="t" style="top:563.69px;font-size:7.4px;line-height:7.4px;color:#3d6e48;letter-spacing:-0.1px;left:331.50px;width:300px;text-align:center;-webkit-text-stroke:0.15px #3d6e48;">&#8377;1,484.50</div>
<div class="t" style="top:574.68px;font-size:7px;line-height:7px;color:#3d6e48;letter-spacing:-0.1px;left:331.50px;width:300px;text-align:center;">+0.1%</div>
<div class="r" style="left:518.90px;top:544.70px;width:65.80px;height:46.30px;background:linear-gradient(160deg,#cff0d7 0%,#c2e9cb 60%,#c9ecd1 100%);border-radius:4px;box-shadow:0 1px 2px rgba(0,0,0,.06);"></div>
<div class="t" style="top:553.39px;font-size:7.4px;line-height:7.4px;color:#2f6a3c;letter-spacing:-0.1px;left:401.80px;width:300px;text-align:center;-webkit-text-stroke:0.3px #2f6a3c;">APOLLOHOSP</div>
<div class="t" style="top:563.69px;font-size:7.4px;line-height:7.4px;color:#2f6a3c;letter-spacing:-0.1px;left:401.80px;width:300px;text-align:center;-webkit-text-stroke:0.15px #2f6a3c;">&#8377;7,772.00</div>
<div class="t" style="top:574.68px;font-size:7px;line-height:7px;color:#2f6a3c;letter-spacing:-0.1px;left:401.80px;width:300px;text-align:center;">+1.4%</div>
<div class="r" style="left:589.20px;top:544.70px;width:65.80px;height:46.30px;background:linear-gradient(160deg,#fadcdc 0%,#f7cfcf 60%,#f9d5d5 100%);border-radius:4px;box-shadow:0 1px 2px rgba(0,0,0,.06);"></div>
<div class="t" style="top:553.39px;font-size:7.4px;line-height:7.4px;color:#a14040;letter-spacing:-0.1px;left:472.10px;width:300px;text-align:center;-webkit-text-stroke:0.3px #a14040;">ASIANPAINT</div>
<div class="t" style="top:563.69px;font-size:7.4px;line-height:7.4px;color:#a14040;letter-spacing:-0.1px;left:472.10px;width:300px;text-align:center;-webkit-text-stroke:0.15px #a14040;">&#8377;2,792.60</div>
<div class="t" style="top:574.68px;font-size:7px;line-height:7px;color:#a14040;letter-spacing:-0.1px;left:472.10px;width:300px;text-align:center;">-0.0%</div>
<div class="r" style="left:659.50px;top:544.70px;width:65.80px;height:46.30px;background:linear-gradient(160deg,#e9f8ec 0%,#dcf2e0 60%,#e2f5e5 100%);border-radius:4px;box-shadow:0 1px 2px rgba(0,0,0,.06);"></div>
<div class="t" style="top:553.39px;font-size:7.4px;line-height:7.4px;color:#3d6e48;letter-spacing:-0.1px;left:542.40px;width:300px;text-align:center;-webkit-text-stroke:0.3px #3d6e48;">AXISBANK</div>
<div class="t" style="top:563.69px;font-size:7.4px;line-height:7.4px;color:#3d6e48;letter-spacing:-0.1px;left:542.40px;width:300px;text-align:center;-webkit-text-stroke:0.15px #3d6e48;">&#8377;1,926.50</div>
<div class="t" style="top:574.68px;font-size:7px;line-height:7px;color:#3d6e48;letter-spacing:-0.1px;left:542.40px;width:300px;text-align:center;">+0.3%</div>
<div class="r" style="left:729.80px;top:544.70px;width:65.80px;height:46.30px;background:linear-gradient(160deg,#cff0d7 0%,#c2e9cb 60%,#c9ecd1 100%);border-radius:4px;box-shadow:0 1px 2px rgba(0,0,0,.06);"></div>
<div class="t" style="top:553.39px;font-size:7.4px;line-height:7.4px;color:#2f6a3c;letter-spacing:-0.1px;left:612.70px;width:300px;text-align:center;-webkit-text-stroke:0.3px #2f6a3c;">BAJAJ-AUTO</div>
<div class="t" style="top:563.69px;font-size:7.4px;line-height:7.4px;color:#2f6a3c;letter-spacing:-0.1px;left:612.70px;width:300px;text-align:center;-webkit-text-stroke:0.15px #2f6a3c;">&#8377;8,176.00</div>
<div class="t" style="top:574.68px;font-size:7px;line-height:7px;color:#2f6a3c;letter-spacing:-0.1px;left:612.70px;width:300px;text-align:center;">+0.6%</div>
<div class="r" style="left:800.10px;top:544.70px;width:65.80px;height:46.30px;background:linear-gradient(160deg,#fadcdc 0%,#f7cfcf 60%,#f9d5d5 100%);border-radius:4px;box-shadow:0 1px 2px rgba(0,0,0,.06);"></div>
<div class="t" style="top:553.39px;font-size:7.4px;line-height:7.4px;color:#a14040;letter-spacing:-0.1px;left:683.00px;width:300px;text-align:center;-webkit-text-stroke:0.3px #a14040;">BAJAJFINSV</div>
<div class="t" style="top:563.69px;font-size:7.4px;line-height:7.4px;color:#a14040;letter-spacing:-0.1px;left:683.00px;width:300px;text-align:center;-webkit-text-stroke:0.15px #a14040;">&#8377;2,002.00</div>
<div class="t" style="top:574.68px;font-size:7px;line-height:7px;color:#a14040;letter-spacing:-0.1px;left:683.00px;width:300px;text-align:center;">-0.8%</div>
<div class="r" style="left:378.30px;top:595.80px;width:65.80px;height:46.30px;background:linear-gradient(160deg,#fde9e9 0%,#fbdede 60%,#fce3e3 100%);border-radius:4px;box-shadow:0 1px 2px rgba(0,0,0,.06);"></div>
<div class="t" style="top:604.49px;font-size:7.4px;line-height:7.4px;color:#a84848;letter-spacing:-0.1px;left:261.20px;width:300px;text-align:center;-webkit-text-stroke:0.3px #a84848;">CIPLA</div>
<div class="t" style="top:614.79px;font-size:7.4px;line-height:7.4px;color:#a84848;letter-spacing:-0.1px;left:261.20px;width:300px;text-align:center;-webkit-text-stroke:0.15px #a84848;">&#8377;1,486.30</div>
<div class="t" style="top:625.78px;font-size:7px;line-height:7px;color:#a84848;letter-spacing:-0.1px;left:261.20px;width:300px;text-align:center;">-0.2%</div>
<div class="r" style="left:448.60px;top:595.80px;width:65.80px;height:46.30px;background:linear-gradient(160deg,#e9f8ec 0%,#dcf2e0 60%,#e2f5e5 100%);border-radius:4px;box-shadow:0 1px 2px rgba(0,0,0,.06);"></div>
<div class="t" style="top:604.49px;font-size:7.4px;line-height:7.4px;color:#3d6e48;letter-spacing:-0.1px;left:331.50px;width:300px;text-align:center;-webkit-text-stroke:0.3px #3d6e48;">COALINDIA</div>
<div class="t" style="top:614.79px;font-size:7.4px;line-height:7.4px;color:#3d6e48;letter-spacing:-0.1px;left:331.50px;width:300px;text-align:center;-webkit-text-stroke:0.15px #3d6e48;">&#8377;403.85</div>
<div class="t" style="top:625.78px;font-size:7px;line-height:7px;color:#3d6e48;letter-spacing:-0.1px;left:331.50px;width:300px;text-align:center;">+0.0%</div>
<div class="r" style="left:518.90px;top:595.80px;width:65.80px;height:46.30px;background:linear-gradient(160deg,#f8d0d0 0%,#f4c2c2 60%,#f6c9c9 100%);border-radius:4px;box-shadow:0 1px 2px rgba(0,0,0,.06);"></div>
<div class="t" style="top:604.49px;font-size:7.4px;line-height:7.4px;color:#9e3a3a;letter-spacing:-0.1px;left:401.80px;width:300px;text-align:center;-webkit-text-stroke:0.3px #9e3a3a;">DRREDDY</div>
<div class="t" style="top:614.79px;font-size:7.4px;line-height:7.4px;color:#9e3a3a;letter-spacing:-0.1px;left:401.80px;width:300px;text-align:center;-webkit-text-stroke:0.15px #9e3a3a;">&#8377;1,503.00</div>
<div class="t" style="top:625.78px;font-size:7px;line-height:7px;color:#9e3a3a;letter-spacing:-0.1px;left:401.80px;width:300px;text-align:center;">-1.4%</div>
<div class="r" style="left:589.20px;top:595.80px;width:65.80px;height:46.30px;background:linear-gradient(160deg,#e9f8ec 0%,#dcf2e0 60%,#e2f5e5 100%);border-radius:4px;box-shadow:0 1px 2px rgba(0,0,0,.06);"></div>
<div class="t" style="top:604.49px;font-size:7.4px;line-height:7.4px;color:#3d6e48;letter-spacing:-0.1px;left:472.10px;width:300px;text-align:center;-webkit-text-stroke:0.3px #3d6e48;">EICHERMOT</div>
<div class="t" style="top:614.79px;font-size:7.4px;line-height:7.4px;color:#3d6e48;letter-spacing:-0.1px;left:472.10px;width:300px;text-align:center;-webkit-text-stroke:0.15px #3d6e48;">&#8377;7,903.60</div>
<div class="t" style="top:625.78px;font-size:7px;line-height:7px;color:#3d6e48;letter-spacing:-0.1px;left:472.10px;width:300px;text-align:center;">+0.1%</div>
<div class="r" style="left:659.50px;top:595.80px;width:65.80px;height:46.30px;background:linear-gradient(160deg,#e9f8ec 0%,#dcf2e0 60%,#e2f5e5 100%);border-radius:4px;box-shadow:0 1px 2px rgba(0,0,0,.06);"></div>
<div class="t" style="top:604.49px;font-size:7.4px;line-height:7.4px;color:#3d6e48;letter-spacing:-0.1px;left:542.40px;width:300px;text-align:center;-webkit-text-stroke:0.3px #3d6e48;">ETERNAL</div>
<div class="t" style="top:614.79px;font-size:7.4px;line-height:7.4px;color:#3d6e48;letter-spacing:-0.1px;left:542.40px;width:300px;text-align:center;-webkit-text-stroke:0.15px #3d6e48;">&#8377;204.85</div>
<div class="t" style="top:625.78px;font-size:7px;line-height:7px;color:#3d6e48;letter-spacing:-0.1px;left:542.40px;width:300px;text-align:center;">+0.2%</div>
<div class="r" style="left:729.80px;top:595.80px;width:65.80px;height:46.30px;background:linear-gradient(160deg,#fadcdc 0%,#f7cfcf 60%,#f9d5d5 100%);border-radius:4px;box-shadow:0 1px 2px rgba(0,0,0,.06);"></div>
<div class="t" style="top:604.49px;font-size:7.4px;line-height:7.4px;color:#a14040;letter-spacing:-0.1px;left:612.70px;width:300px;text-align:center;-webkit-text-stroke:0.3px #a14040;">GRASIM</div>
<div class="t" style="top:614.79px;font-size:7.4px;line-height:7.4px;color:#a14040;letter-spacing:-0.1px;left:612.70px;width:300px;text-align:center;-webkit-text-stroke:0.15px #a14040;">&#8377;2,608.60</div>
<div class="t" style="top:625.78px;font-size:7px;line-height:7px;color:#a14040;letter-spacing:-0.1px;left:612.70px;width:300px;text-align:center;">-0.1%</div>
<div class="r" style="left:800.10px;top:595.80px;width:65.80px;height:46.30px;background:linear-gradient(160deg,#fde9e9 0%,#fbdede 60%,#fce3e3 100%);border-radius:4px;box-shadow:0 1px 2px rgba(0,0,0,.06);"></div>
<div class="t" style="top:604.49px;font-size:7.4px;line-height:7.4px;color:#a84848;letter-spacing:-0.1px;left:683.00px;width:300px;text-align:center;-webkit-text-stroke:0.3px #a84848;">HCLTECH</div>
<div class="t" style="top:614.79px;font-size:7.4px;line-height:7.4px;color:#a84848;letter-spacing:-0.1px;left:683.00px;width:300px;text-align:center;-webkit-text-stroke:0.15px #a84848;">&#8377;1,676.09</div>
<div class="t" style="top:625.78px;font-size:7px;line-height:7px;color:#a84848;letter-spacing:-0.1px;left:683.00px;width:300px;text-align:center;">-0.2%</div>
<div class="r" style="left:378.30px;top:646.90px;width:65.80px;height:46.30px;background:linear-gradient(160deg,#fadcdc 0%,#f7cfcf 60%,#f9d5d5 100%);border-radius:4px;box-shadow:0 1px 2px rgba(0,0,0,.06);"></div>
<div class="t" style="top:655.59px;font-size:7.4px;line-height:7.4px;color:#a14040;letter-spacing:-0.1px;left:261.20px;width:300px;text-align:center;-webkit-text-stroke:0.3px #a14040;">HINDALCO</div>
<div class="t" style="top:665.89px;font-size:7.4px;line-height:7.4px;color:#a14040;letter-spacing:-0.1px;left:261.20px;width:300px;text-align:center;-webkit-text-stroke:0.15px #a14040;">&#8377;2,303.20</div>
<div class="t" style="top:676.88px;font-size:7px;line-height:7px;color:#a14040;letter-spacing:-0.1px;left:261.20px;width:300px;text-align:center;">-0.5%</div>
<div class="r" style="left:448.60px;top:646.90px;width:65.80px;height:46.30px;background:linear-gradient(160deg,#fde9e9 0%,#fbdede 60%,#fce3e3 100%);border-radius:4px;box-shadow:0 1px 2px rgba(0,0,0,.06);"></div>
<div class="t" style="top:655.59px;font-size:7.4px;line-height:7.4px;color:#a84848;letter-spacing:-0.1px;left:331.50px;width:300px;text-align:center;-webkit-text-stroke:0.3px #a84848;">ICICIBANK</div>
<div class="t" style="top:665.89px;font-size:7.4px;line-height:7.4px;color:#a84848;letter-spacing:-0.1px;left:331.50px;width:300px;text-align:center;-webkit-text-stroke:0.15px #a84848;">&#8377;1,509.60</div>
<div class="t" style="top:676.88px;font-size:7px;line-height:7px;color:#a84848;letter-spacing:-0.1px;left:331.50px;width:300px;text-align:center;">-0.2%</div>
<div class="r" style="left:518.90px;top:646.90px;width:65.80px;height:46.30px;background:linear-gradient(160deg,#f8d0d0 0%,#f4c2c2 60%,#f6c9c9 100%);border-radius:4px;box-shadow:0 1px 2px rgba(0,0,0,.06);"></div>
<div class="t" style="top:655.59px;font-size:7.4px;line-height:7.4px;color:#9e3a3a;letter-spacing:-0.1px;left:401.80px;width:300px;text-align:center;-webkit-text-stroke:0.3px #9e3a3a;">INDIGO</div>
<div class="t" style="top:665.89px;font-size:7.4px;line-height:7.4px;color:#9e3a3a;letter-spacing:-0.1px;left:401.80px;width:300px;text-align:center;-webkit-text-stroke:0.15px #9e3a3a;">&#8377;5,061.60</div>
<div class="t" style="top:676.88px;font-size:7px;line-height:7px;color:#9e3a3a;letter-spacing:-0.1px;left:401.80px;width:300px;text-align:center;">-1.8%</div>
<div class="r" style="left:589.20px;top:646.90px;width:65.80px;height:46.30px;background:linear-gradient(160deg,#fde9e9 0%,#fbdede 60%,#fce3e3 100%);border-radius:4px;box-shadow:0 1px 2px rgba(0,0,0,.06);"></div>
<div class="t" style="top:655.59px;font-size:7.4px;line-height:7.4px;color:#a84848;letter-spacing:-0.1px;left:472.10px;width:300px;text-align:center;-webkit-text-stroke:0.3px #a84848;">INFY</div>
<div class="t" style="top:665.89px;font-size:7.4px;line-height:7.4px;color:#a84848;letter-spacing:-0.1px;left:472.10px;width:300px;text-align:center;-webkit-text-stroke:0.15px #a84848;">&#8377;1,608.40</div>
<div class="t" style="top:676.88px;font-size:7px;line-height:7px;color:#a84848;letter-spacing:-0.1px;left:472.10px;width:300px;text-align:center;">-0.3%</div>
<div class="r" style="left:659.50px;top:646.90px;width:65.80px;height:46.30px;background:linear-gradient(160deg,#fadcdc 0%,#f7cfcf 60%,#f9d5d5 100%);border-radius:4px;box-shadow:0 1px 2px rgba(0,0,0,.06);"></div>
<div class="t" style="top:655.59px;font-size:7.4px;line-height:7.4px;color:#a14040;letter-spacing:-0.1px;left:542.40px;width:300px;text-align:center;-webkit-text-stroke:0.3px #a14040;">ITC</div>
<div class="t" style="top:665.89px;font-size:7.4px;line-height:7.4px;color:#a14040;letter-spacing:-0.1px;left:542.40px;width:300px;text-align:center;-webkit-text-stroke:0.15px #a14040;">&#8377;466.00</div>
<div class="t" style="top:676.88px;font-size:7px;line-height:7px;color:#a14040;letter-spacing:-0.1px;left:542.40px;width:300px;text-align:center;">-0.2%</div>
<div class="r" style="left:729.80px;top:646.90px;width:65.80px;height:46.30px;background:linear-gradient(160deg,#e9f8ec 0%,#dcf2e0 60%,#e2f5e5 100%);border-radius:4px;box-shadow:0 1px 2px rgba(0,0,0,.06);"></div>
<div class="t" style="top:655.59px;font-size:7.4px;line-height:7.4px;color:#3d6e48;letter-spacing:-0.1px;left:612.70px;width:300px;text-align:center;-webkit-text-stroke:0.3px #3d6e48;">JIOFIN</div>
<div class="t" style="top:665.89px;font-size:7.4px;line-height:7.4px;color:#3d6e48;letter-spacing:-0.1px;left:612.70px;width:300px;text-align:center;-webkit-text-stroke:0.15px #3d6e48;">&#8377;288.80</div>
<div class="t" style="top:676.88px;font-size:7px;line-height:7px;color:#3d6e48;letter-spacing:-0.1px;left:612.70px;width:300px;text-align:center;">+0.1%</div>
<div class="r" style="left:800.10px;top:646.90px;width:65.80px;height:46.30px;background:linear-gradient(160deg,#fadcdc 0%,#f7cfcf 60%,#f9d5d5 100%);border-radius:4px;box-shadow:0 1px 2px rgba(0,0,0,.06);"></div>
<div class="t" style="top:655.59px;font-size:7.4px;line-height:7.4px;color:#a14040;letter-spacing:-0.1px;left:683.00px;width:300px;text-align:center;-webkit-text-stroke:0.3px #a14040;">JSWSTEEL</div>
<div class="t" style="top:665.89px;font-size:7.4px;line-height:7.4px;color:#a14040;letter-spacing:-0.1px;left:683.00px;width:300px;text-align:center;-webkit-text-stroke:0.15px #a14040;">&#8377;1,004.85</div>
<div class="t" style="top:676.88px;font-size:7px;line-height:7px;color:#a14040;letter-spacing:-0.1px;left:683.00px;width:300px;text-align:center;">-0.3%</div>
<div class="r" style="left:378.30px;top:698.00px;width:65.80px;height:46.30px;background:linear-gradient(160deg,#e9f8ec 0%,#dcf2e0 60%,#e2f5e5 100%);border-radius:4px;box-shadow:0 1px 2px rgba(0,0,0,.06);"></div>
<div class="t" style="top:706.69px;font-size:7.4px;line-height:7.4px;color:#3d6e48;letter-spacing:-0.1px;left:261.20px;width:300px;text-align:center;-webkit-text-stroke:0.3px #3d6e48;">MARUTI</div>
<div class="t" style="top:716.99px;font-size:7.4px;line-height:7.4px;color:#3d6e48;letter-spacing:-0.1px;left:261.20px;width:300px;text-align:center;-webkit-text-stroke:0.15px #3d6e48;">&#8377;16,703.60</div>
<div class="t" style="top:727.98px;font-size:7px;line-height:7px;color:#3d6e48;letter-spacing:-0.1px;left:261.20px;width:300px;text-align:center;">+0.3%</div>
<div class="r" style="left:448.60px;top:698.00px;width:65.80px;height:46.30px;background:linear-gradient(160deg,#e9f8ec 0%,#dcf2e0 60%,#e2f5e5 100%);border-radius:4px;box-shadow:0 1px 2px rgba(0,0,0,.06);"></div>
<div class="t" style="top:706.69px;font-size:7.4px;line-height:7.4px;color:#3d6e48;letter-spacing:-0.1px;left:331.50px;width:300px;text-align:center;-webkit-text-stroke:0.3px #3d6e48;">MAXHEALTH</div>
<div class="t" style="top:716.99px;font-size:7.4px;line-height:7.4px;color:#3d6e48;letter-spacing:-0.1px;left:331.50px;width:300px;text-align:center;-webkit-text-stroke:0.15px #3d6e48;">&#8377;1,001.46</div>
<div class="t" style="top:727.98px;font-size:7px;line-height:7px;color:#3d6e48;letter-spacing:-0.1px;left:331.50px;width:300px;text-align:center;">+0.5%</div>
<div class="r" style="left:518.90px;top:698.00px;width:65.80px;height:46.30px;background:linear-gradient(160deg,#e9f8ec 0%,#dcf2e0 60%,#e2f5e5 100%);border-radius:4px;box-shadow:0 1px 2px rgba(0,0,0,.06);"></div>
<div class="t" style="top:706.69px;font-size:7.4px;line-height:7.4px;color:#3d6e48;letter-spacing:-0.1px;left:401.80px;width:300px;text-align:center;-webkit-text-stroke:0.3px #3d6e48;">NESTLEIND</div>
<div class="t" style="top:716.99px;font-size:7.4px;line-height:7.4px;color:#3d6e48;letter-spacing:-0.1px;left:401.80px;width:300px;text-align:center;-webkit-text-stroke:0.15px #3d6e48;">&#8377;1,239.70</div>
<div class="t" style="top:727.98px;font-size:7px;line-height:7px;color:#3d6e48;letter-spacing:-0.1px;left:401.80px;width:300px;text-align:center;">+0.3%</div>
<div class="r" style="left:589.20px;top:698.00px;width:65.80px;height:46.30px;background:linear-gradient(160deg,#fde9e9 0%,#fbdede 60%,#fce3e3 100%);border-radius:4px;box-shadow:0 1px 2px rgba(0,0,0,.06);"></div>
<div class="t" style="top:706.69px;font-size:7.4px;line-height:7.4px;color:#a84848;letter-spacing:-0.1px;left:472.10px;width:300px;text-align:center;-webkit-text-stroke:0.3px #a84848;">NTPC</div>
<div class="t" style="top:716.99px;font-size:7.4px;line-height:7.4px;color:#a84848;letter-spacing:-0.1px;left:472.10px;width:300px;text-align:center;-webkit-text-stroke:0.15px #a84848;">&#8377;322.55</div>
<div class="t" style="top:727.98px;font-size:7px;line-height:7px;color:#a84848;letter-spacing:-0.1px;left:472.10px;width:300px;text-align:center;">-0.3%</div>
<div class="r" style="left:659.50px;top:698.00px;width:65.80px;height:46.30px;background:linear-gradient(160deg,#fadcdc 0%,#f7cfcf 60%,#f9d5d5 100%);border-radius:4px;box-shadow:0 1px 2px rgba(0,0,0,.06);"></div>
<div class="t" style="top:706.69px;font-size:7.4px;line-height:7.4px;color:#a14040;letter-spacing:-0.1px;left:542.40px;width:300px;text-align:center;-webkit-text-stroke:0.3px #a14040;">ONGC</div>
<div class="t" style="top:716.99px;font-size:7.4px;line-height:7.4px;color:#a14040;letter-spacing:-0.1px;left:542.40px;width:300px;text-align:center;-webkit-text-stroke:0.15px #a14040;">&#8377;233.77</div>
<div class="t" style="top:727.98px;font-size:7px;line-height:7px;color:#a14040;letter-spacing:-0.1px;left:542.40px;width:300px;text-align:center;">-0.7%</div>
<div class="r" style="left:729.80px;top:698.00px;width:65.80px;height:46.30px;background:linear-gradient(160deg,#e9f8ec 0%,#dcf2e0 60%,#e2f5e5 100%);border-radius:4px;box-shadow:0 1px 2px rgba(0,0,0,.06);"></div>
<div class="t" style="top:706.69px;font-size:7.4px;line-height:7.4px;color:#3d6e48;letter-spacing:-0.1px;left:612.70px;width:300px;text-align:center;-webkit-text-stroke:0.3px #3d6e48;">POWERGRID</div>
<div class="t" style="top:716.99px;font-size:7.4px;line-height:7.4px;color:#3d6e48;letter-spacing:-0.1px;left:612.70px;width:300px;text-align:center;-webkit-text-stroke:0.15px #3d6e48;">&#8377;029.65</div>
<div class="t" style="top:727.98px;font-size:7px;line-height:7px;color:#3d6e48;letter-spacing:-0.1px;left:612.70px;width:300px;text-align:center;">+0.4%</div>
<div class="r" style="left:800.10px;top:698.00px;width:65.80px;height:46.30px;background:linear-gradient(160deg,#fadcdc 0%,#f7cfcf 60%,#f9d5d5 100%);border-radius:4px;box-shadow:0 1px 2px rgba(0,0,0,.06);"></div>
<div class="t" style="top:706.69px;font-size:7.4px;line-height:7.4px;color:#a14040;letter-spacing:-0.1px;left:683.00px;width:300px;text-align:center;-webkit-text-stroke:0.3px #a14040;">TRENT</div>
<div class="t" style="top:716.99px;font-size:7.4px;line-height:7.4px;color:#a14040;letter-spacing:-0.1px;left:683.00px;width:300px;text-align:center;-webkit-text-stroke:0.15px #a14040;">&#8377;1,808.60</div>
<div class="t" style="top:727.98px;font-size:7px;line-height:7px;color:#a14040;letter-spacing:-0.1px;left:683.00px;width:300px;text-align:center;">-0.8%</div>
</div></div>
<svg class="abs" style="left:1007px;top:879px" width="50" height="50" viewBox="0 0 50 50">
<path d="M25 1 C27 14 33 22 49 25 C33 28 27 36 25 49 C23 36 17 28 1 25 C17 22 23 14 25 1Z" fill="#f5f6f8"/>
</svg>
</body></html>
